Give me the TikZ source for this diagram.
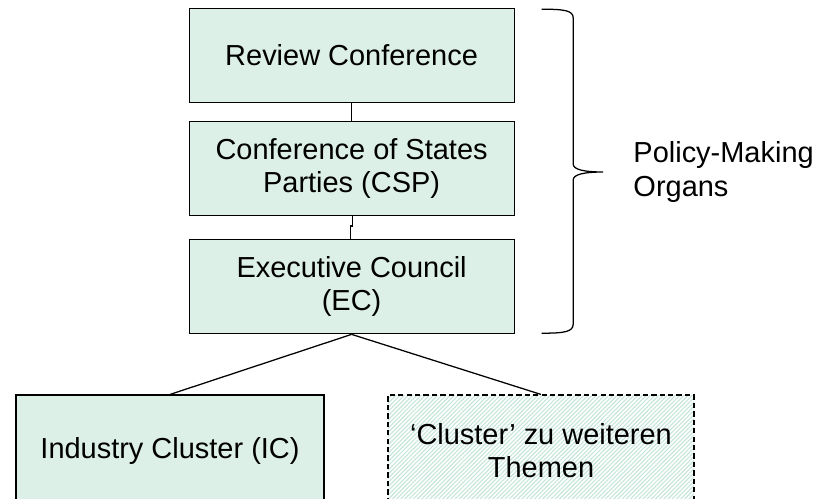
\documentclass[tikz,border=0pt]{standalone}
\usepackage{fontspec}
\setmainfont{Liberation Sans}
\usetikzlibrary{patterns.meta}
\definecolor{organfill}{HTML}{DDF0E7}
\definecolor{hatchgreen}{HTML}{C6E6D9}
\begin{document}
\begin{tikzpicture}[
    every node/.style={font=\fontsize{20.6}{23.6}\selectfont},
    organ/.style={draw=black,line width=0.8pt,fill=organfill,align=center,
      minimum width=8.125cm,minimum height=2.35cm,inner sep=0pt},
    cluster/.style={organ,minimum height=2.8cm},
    topic/.style={cluster,fill=none,line width=0.9pt,dash pattern=on 3.8pt off 2.2pt,
      pattern={Lines[angle=45,distance=2.1pt,line width=0.8pt]},
      pattern color=hatchgreen},
    link/.style={line width=0.9pt}
  ]

    % Frame --------------------------------------------------------
    \clip (0,0) rectangle (20.5,-12.475);

    % Policy-making organs -----------------------------------------
    \node[organ] (rc)  at (8.79,-1.39) {Review Conference};
    \node[organ] (csp) at (8.79,-4.21) {Conference of States\\Parties (CSP)};
    \node[organ] (ec)  at (8.79,-7.17) {Executive Council\\(EC)};

    % Clusters -----------------------------------------------------
    \node[cluster,minimum width=7.7cm] (ic) at (4.25,-11.275) {Industry Cluster (IC)};
    \node[topic,minimum width=7.65cm] (more) at (13.525,-11.275) {`Cluster' zu weiteren\\Themen};

    % Connectors ---------------------------------------------------
    \draw[link] (rc) -- (csp);
    \draw[link] ([xshift=0.6pt]csp.south) -- ++(0,-0.25) -| ([xshift=-0.6pt]ec.north);
    \draw[link] (ec.south) -- (ic.north);
    \draw[link] (ec.south) -- (more.north);

    % Brace and its label ------------------------------------------
    \draw[link] (13.54,-0.23) .. controls (14.1,-0.23) and (14.33,-0.26) .. (14.33,-0.45)
      -- (14.33,-4.1) .. controls (14.33,-4.24) and (14.6,-4.3) .. (15.08,-4.3)
      .. controls (14.6,-4.3) and (14.33,-4.36) .. (14.33,-4.5)
      -- (14.33,-8.1) .. controls (14.33,-8.3) and (14.1,-8.33) .. (13.54,-8.33);
    \node[anchor=west,align=left,inner sep=0pt] (label) at (15.83,-4.3) {Policy-Making\\Organs};

  \end{tikzpicture}
\end{document}
